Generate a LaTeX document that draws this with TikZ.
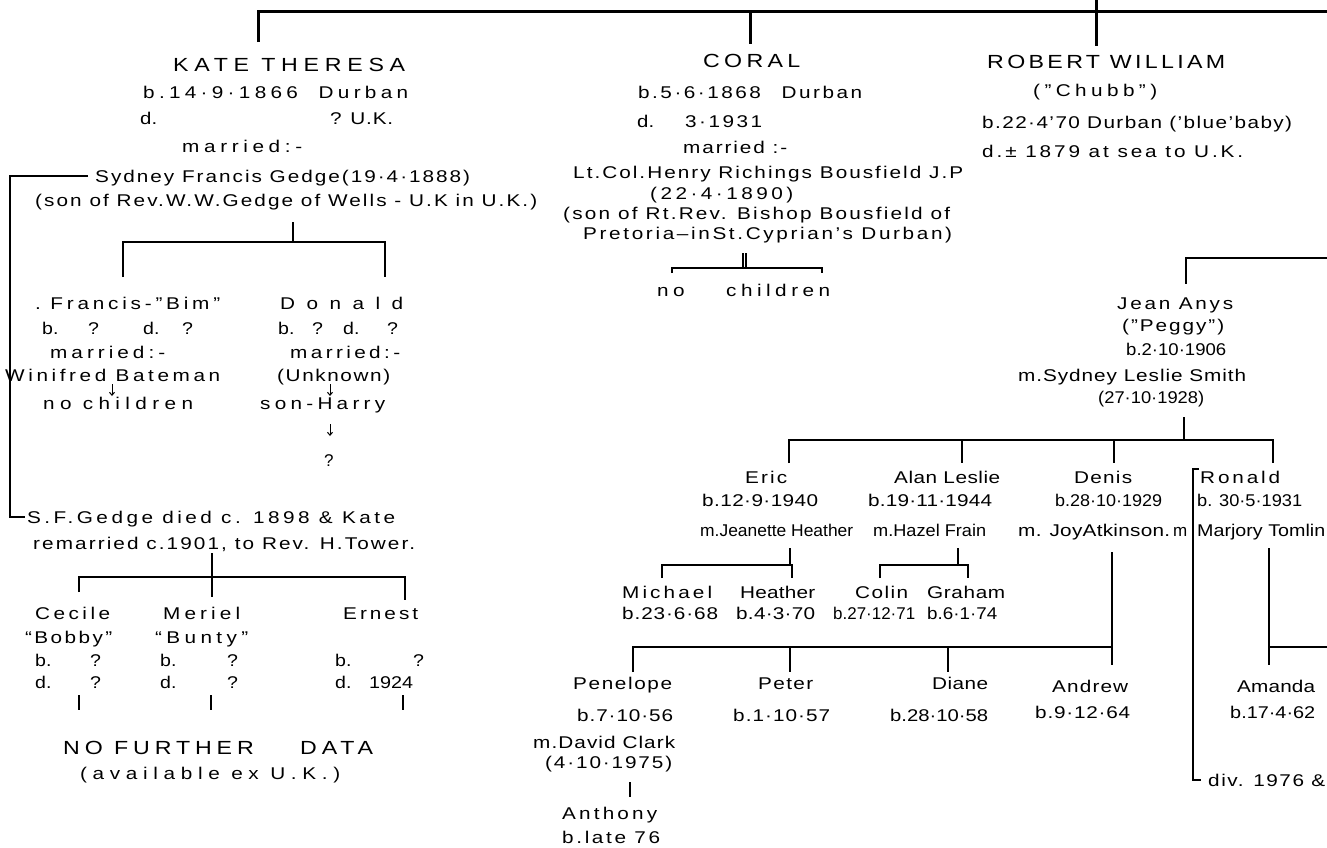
\documentclass[tikz,border=0pt]{standalone}
\usepackage{fontspec}
\setmainfont{Liberation Sans}[Ligatures=TeX]
\usepackage{graphicx}
\usetikzlibrary{arrows.meta}
\newlength\fwa
\newlength\fwb
\newcommand\fitw[2]{%
 \settowidth\fwa{#2}%
 \ifdim\fwa>#1pt
   \pgfmathsetmacro\fwf{#1/\fwa}\scalebox{\fwf}[1]{#2}%
 \else
   \pgfmathsetmacro\fwt{#1/1.22}%
   \ifdim\fwa>\fwt pt
     \pgfmathsetmacro\fwf{#1/\fwa}\scalebox{\fwf}[1]{#2}%
   \else
     \settowidth\fwb{\addfontfeature{LetterSpace=10}#2}%
     \pgfmathsetmacro\fwf{10*(\fwt-\fwa)/(\fwb-\fwa)}%
     \scalebox{1.22}[1]{\addfontfeature{LetterSpace=\fwf}#2}%
   \fi
 \fi}
\newcommand\bx[2]{\makebox[#1pt][l]{\scalebox{1.15}[1]{#2}}}
\newcommand\fsn{\fontsize{17}{20}\selectfont}
\newcommand\fsb{\fontsize{19}{22}\selectfont}
\tikzset{
 tx/.style={anchor=west, inner sep=0pt, text height=12pt, text depth=0pt, font=\fsn},
 tb/.style={anchor=west, inner sep=0pt, text height=13.5pt, text depth=0pt, font=\fsb},
 ln/.style={line width=1.1pt},
 arr/.style={line width=1pt, -{Straight Barb[length=3pt,width=5pt]}},
 bar/.style={line width=3pt},
 mid/.style={line width=1.8pt}
}
\begin{document}
\begin{tikzpicture}[x=1pt,y=-1pt]
\useasboundingbox (0,0) rectangle (1327,847);
\clip (0,0) rectangle (1327,847);
% ---------- top bar ----------
\coordinate (b0) at (258,11); \coordinate (b1) at (1327,11);
\coordinate (k1) at (258,42); \coordinate (c0) at (750,11); \coordinate (c1) at (750,44);
\coordinate (r0) at (1096,0); \coordinate (r1) at (1096,46);
\draw[bar] (k1) -- (b0) -- (b1);
\draw[bar] (c0) -- (c1);
\draw[bar] (r0) -- (r1);
% ---------- KATE THERESA ----------
\node[tb] (kate) at (173,65) {\fitw{232}{KATE THERESA}};
\node[tx] (kateb) at (143,92) {\fitw{265}{b.14·9·1866\quad Durban}};
\node[tx] (kated) at (140,118) {\fitw{17}{d.}};
\node[tx] (kateuk) at (330,118) {\fitw{63}{? U.K.}};
\node[tx] (katem) at (182,146) {\fitw{120}{married:-}};
\node[tx] (sydney) at (95,176) {\fitw{375}{Sydney Francis Gedge(19·4·1888)}};
\node[tx] (sonw) at (35,200) {\fitw{502}{(son of Rev.W.W.Gedge of Wells - U.K in U.K.)}};
\coordinate (s0) at (88,176); \coordinate (s1) at (10,176);
\coordinate (s2) at (10,517); \coordinate (s3) at (25,517);
\draw[ln] (s0) -- (s1) -- (s2) -- (s3);
\coordinate (g0) at (293,222); \coordinate (g1) at (293,242);
\coordinate (g2) at (123,242); \coordinate (g3) at (385,242);
\coordinate (g4) at (123,277); \coordinate (g5) at (385,277);
\draw[ln] (g0) -- (g1);
\draw[ln] (g4) -- (g2) -- (g3) -- (g5);
\node[tx] (francis) at (35,303) {\fitw{185}{.\ Francis-"Bim"}};
\node[tx] (donald) at (280,303) {\fitw{123}{Donald}};
\node[tx] (frb) at (42,328) {\bx{46}{b.}\bx{55}{?}\bx{39}{d.}\bx{10}{?}};
\node[tx] (dob) at (278,328) {\bx{34}{b.}\bx{31}{?}\bx{44}{d.}\bx{10}{?}};
\node[tx] (frm) at (50,352) {\fitw{115}{married:-}};
\node[tx] (dom) at (290,352) {\fitw{110}{married:-}};
\node[tx] (win) at (5,375) {\fitw{215}{Winifred Bateman}};
\node[tx] (unk) at (277,375) {\fitw{113}{(Unknown)}};
\node[tx] (noch) at (43,403) {\fitw{150}{no children}};
\node[tx] (harry) at (260,403) {\fitw{125}{son-Harry}};
\node[tx] (hq) at (324,460) {?};
\coordinate (w0) at (112,384); \coordinate (w1) at (112,396);
\coordinate (u0) at (330,384); \coordinate (u1) at (330,396);
\coordinate (h0) at (330,424); \coordinate (h1) at (330,436);
\draw[arr] (w0) -- (w1);
\draw[arr] (u0) -- (u1);
\draw[arr] (h0) -- (h1);
\node[tx] (sfg) at (27,517) {\fitw{368}{S.F.Gedge died c. 1898 \& Kate}};
\node[tx] (rem) at (33,543) {\fitw{382}{remarried c.1901, to Rev. H.Tower.}};
\coordinate (t0) at (212,553); \coordinate (t1) at (212,597);
\coordinate (t2) at (79,577); \coordinate (t3) at (405,577);
\coordinate (t4) at (79,592); \coordinate (t5) at (405,600);
\draw[ln] (t0) -- (t1);
\draw[ln] (t4) -- (t2) -- (t3) -- (t5);
\node[tx] (cecile) at (35,613) {\fitw{75}{Cecile}};
\node[tx] (bobby) at (25,637) {\fitw{87}{“Bobby”}};
\node[tx] (meriel) at (163,613) {\fitw{77}{Meriel}};
\node[tx] (bunty) at (155,637) {\fitw{93}{“Bunty”}};
\node[tx] (ernest) at (343,613) {\fitw{75}{Ernest}};
\node[tx] (cb) at (35,660) {\bx{55}{b.}\bx{10}{?}};
\node[tx] (cd) at (35,682) {\bx{55}{d.}\bx{10}{?}};
\node[tx] (mb) at (160,660) {\bx{67}{b.}\bx{10}{?}};
\node[tx] (md) at (160,682) {\bx{67}{d.}\bx{10}{?}};
\node[tx] (eb) at (335,660) {\bx{78}{b.}\bx{10}{?}};
\node[tx] (ed) at (335,682) {\bx{34}{d.}\fitw{44}{1924}};
\coordinate (q1a) at (79,695); \coordinate (q1b) at (79,710);
\coordinate (q2a) at (211,695); \coordinate (q2b) at (211,710);
\coordinate (q3a) at (403,695); \coordinate (q3b) at (403,710);
\draw[ln] (q1a) -- (q1b); \draw[ln] (q2a) -- (q2b); \draw[ln] (q3a) -- (q3b);
\node[tb] (nfd) at (63,748) {\fitw{310}{NO FURTHER\qquad DATA}};
\node[tx] (avail) at (80,773) {\fitw{260}{(available ex U.K.)}};
% ---------- CORAL ----------
\node[tb] (coral) at (703,61) {\fitw{97}{CORAL}};
\node[tx] (corb) at (638,92) {\fitw{224}{b.5·6·1868\quad Durban}};
\node[tx] (cord) at (637,121) {\fitw{17}{d.}};
\node[tx] (cord2) at (685,121) {\fitw{77}{3·1931}};
\node[tx] (corm) at (683,147) {\fitw{104}{married :-}};
\node[tx] (lt) at (573,172) {\fitw{390}{Lt.Col.Henry Richings Bousfield J.P}};
\node[tx] (c22) at (650,193) {\fitw{143}{(22·4·1890)}};
\node[tx] (cson) at (563,213) {\fitw{387}{(son of Rt.Rev. Bishop Bousfield of}};
\node[tx] (cpret) at (583,233) {\fitw{369}{Pretoria--inSt.Cyprian's Durban)}};
\coordinate (cc0) at (743,253); \coordinate (cc1) at (743,268);
\coordinate (cc2) at (746,253); \coordinate (cc3) at (746,268);
\coordinate (cc4) at (672,273); \coordinate (cc5) at (672,268);
\coordinate (cc6) at (822,268); \coordinate (cc7) at (822,273);
\draw[ln] (cc0) -- (cc1); \draw[ln] (cc2) -- (cc3);
\draw[ln] (cc4) -- (cc5) -- (cc6) -- (cc7);
\node[tx] (noch2) at (657,290) {\fitw{173}{no\qquad children}};
% ---------- ROBERT WILLIAM ----------
\node[tb] (rw) at (987,62) {\fitw{238}{ROBERT WILLIAM}};
\node[tx] (chubb) at (1033,90) {\fitw{124}{("Chubb")}};
\node[tx] (rwb) at (982,122) {\fitw{310}{b.22·4'70 Durban ('blue'baby)}};
\node[tx] (rwd) at (982,151) {\fitw{261}{d.± 1879 at sea to U.K.}};
% ---------- JEAN ANYS ----------
\coordinate (j0) at (1327,258); \coordinate (j1) at (1186,258); \coordinate (j2) at (1186,284);
\draw[mid] (j0) -- (j1) -- (j2);
\node[tx] (jean) at (1117,303) {\fitw{116}{Jean Anys}};
\node[tx] (peggy) at (1122,325) {\fitw{102}{("Peggy")}};
\node[tx] (jb) at (1126,349) {\fitw{100}{b.2·10·1906}};
\node[tx] (jm) at (1018,375) {\fitw{228}{m.Sydney Leslie Smith}};
\node[tx] (j27) at (1098,397) {\fitw{106}{(27·10·1928)}};
\coordinate (sm0) at (1184,417); \coordinate (sm1) at (1184,440);
\coordinate (sm2) at (789,463); \coordinate (sm3) at (789,440);
\coordinate (sm4) at (1273,440); \coordinate (sm5) at (1273,463);
\coordinate (sm6) at (962,440); \coordinate (sm7) at (962,463);
\coordinate (sm8) at (1114,440); \coordinate (sm9) at (1114,463);
\draw[ln] (sm0) -- (sm1);
\draw[ln] (sm2) -- (sm3) -- (sm4) -- (sm5);
\draw[ln] (sm6) -- (sm7); \draw[ln] (sm8) -- (sm9);
\node[tx] (eric) at (745,477) {\fitw{42}{Eric}};
\node[tx] (alan) at (894,477) {\fitw{106}{Alan Leslie}};
\node[tx] (denis) at (1074,477) {\fitw{58}{Denis}};
\node[tx] (ronald) at (1200,477) {\fitw{80}{Ronald}};
\node[tx] (ericb) at (702,500) {\fitw{116}{b.12·9·1940}};
\node[tx] (alanb) at (868,500) {\fitw{124}{b.19·11·1944}};
\node[tx] (denisb) at (1055,500) {\fitw{107}{b.28·10·1929}};
\node[tx] (ronb) at (1197,500) {\fitw{105}{b. 30·5·1931}};
\node[tx] (ericm) at (700,530) {\fitw{153}{m.Jeanette Heather}};
\node[tx] (alanm) at (873,530) {\fitw{113}{m.Hazel Frain}};
\node[tx] (denism) at (1018,530) {\fitw{152}{m. JoyAtkinson.}};
\node[tx] (ronm) at (1173,530) {m};
\node[tx] (ronm2) at (1197,530) {\fitw{128}{Marjory Tomlin}};
\coordinate (e0) at (790,548); \coordinate (e1) at (790,565);
\coordinate (e2) at (662,578); \coordinate (e3) at (662,565);
\coordinate (e4) at (792,565); \coordinate (e5) at (792,578);
\draw[ln] (e0) -- (e1); \draw[ln] (e2) -- (e3) -- (e4) -- (e5);
\coordinate (a0) at (958,548); \coordinate (a1) at (958,565);
\coordinate (a2) at (880,578); \coordinate (a3) at (880,565);
\coordinate (a4) at (968,565); \coordinate (a5) at (968,578);
\draw[ln] (a0) -- (a1); \draw[ln] (a2) -- (a3) -- (a4) -- (a5);
\node[tx] (michael) at (622,592) {\fitw{90}{Michael}};
\node[tx] (heather) at (740,592) {\fitw{75}{Heather}};
\node[tx] (colin) at (855,592) {\fitw{53}{Colin}};
\node[tx] (graham) at (927,592) {\fitw{78}{Graham}};
\node[tx] (michb) at (622,613) {\fitw{96}{b.23·6·68}};
\node[tx] (heathb) at (736,613) {\fitw{79}{b.4·3·70}};
\node[tx] (colinb) at (833,613) {\fitw{82}{b.27·12·71}};
\node[tx] (grahb) at (927,613) {\fitw{70}{b.6·1·74}};
\coordinate (d0) at (1112,552); \coordinate (d1) at (1112,665);
\coordinate (d2) at (633,672); \coordinate (d3) at (633,647); \coordinate (d4) at (1112,647);
\coordinate (d5) at (790,647); \coordinate (d6) at (790,672);
\coordinate (d7) at (948,647); \coordinate (d8) at (948,672);
\draw[ln] (d0) -- (d1); \draw[ln] (d2) -- (d3) -- (d4);
\draw[ln] (d5) -- (d6); \draw[ln] (d7) -- (d8);
\node[tx] (pen) at (573,683) {\fitw{99}{Penelope}};
\node[tx] (peter) at (758,683) {\fitw{55}{Peter}};
\node[tx] (diane) at (932,683) {\fitw{56}{Diane}};
\node[tx] (andrew) at (1052,686) {\fitw{76}{Andrew}};
\node[tx] (penb) at (577,715) {\fitw{96}{b.7·10·56}};
\node[tx] (peterb) at (733,715) {\fitw{97}{b.1·10·57}};
\node[tx] (dianeb) at (890,715) {\fitw{98}{b.28·10·58}};
\node[tx] (andb) at (1035,712) {\fitw{95}{b.9·12·64}};
\node[tx] (penm) at (533,742) {\fitw{142}{m.David Clark}};
\node[tx] (pen75) at (545,762) {\fitw{127}{(4·10·1975)}};
\coordinate (p0) at (630,782); \coordinate (p1) at (630,797);
\draw[ln] (p0) -- (p1);
\node[tx] (anth) at (562,813) {\fitw{95}{Anthony}};
\node[tx] (anthb) at (562,837) {\fitw{98}{b.late 76}};
% ---------- Ronald / Amanda ----------
\coordinate (ro0) at (1199,469); \coordinate (ro1) at (1193,469);
\coordinate (ro2) at (1193,780); \coordinate (ro3) at (1201,780);
\draw[ln] (ro0) -- (ro1) -- (ro2) -- (ro3);
\coordinate (am0) at (1327,647); \coordinate (am1) at (1269,647);
\coordinate (am2) at (1269,548); \coordinate (am3) at (1269,665);
\draw[ln] (am0) -- (am1); \draw[ln] (am2) -- (am3);
\node[tx] (amanda) at (1237,686) {\fitw{78}{Amanda}};
\node[tx] (amandab) at (1230,712) {\fitw{85}{b.17·4·62}};
\node[tx] (div) at (1208,780) {\fitw{117}{div. 1976 \&}};
\end{tikzpicture}
\end{document}
